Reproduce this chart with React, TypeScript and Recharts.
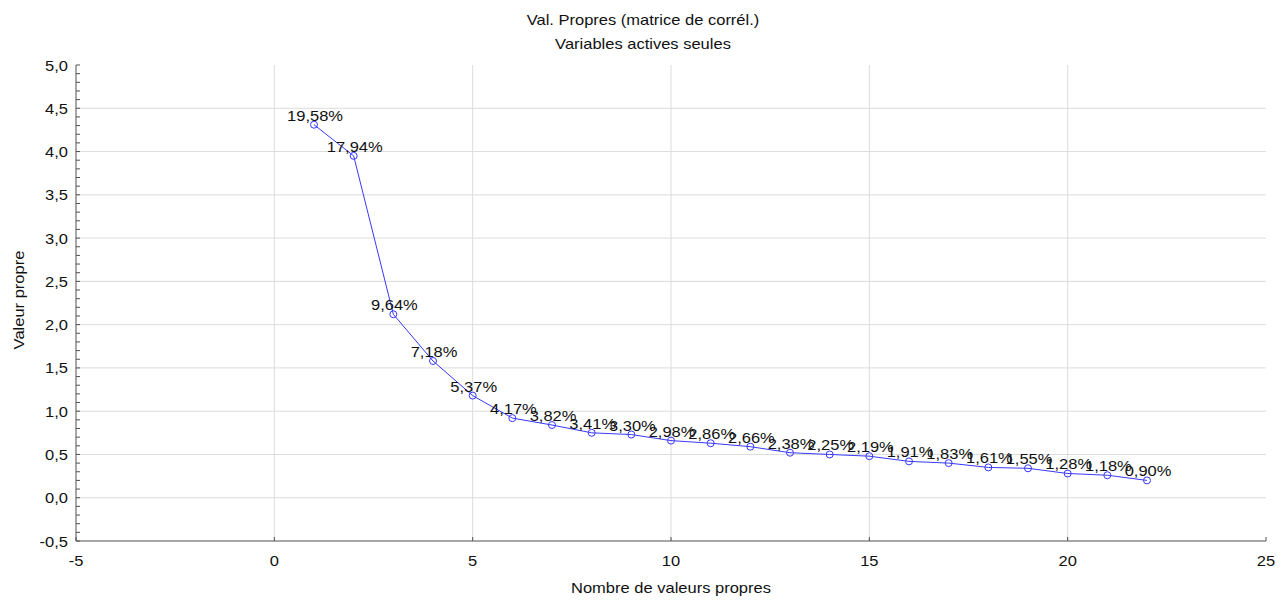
import React from "react";
import {
  LineChart,
  Line,
  XAxis,
  YAxis,
  CartesianGrid,
  LabelList,
} from "recharts";

const rank = [1, 2, 3, 4, 5, 6, 7, 8, 9, 10, 11, 12, 13, 14, 15, 16, 17, 18, 19, 20, 21, 22];
const eigenvalues = [
  4.31, 3.95, 2.12, 1.58, 1.18, 0.92, 0.84, 0.75, 0.73, 0.66, 0.63,
  0.59, 0.52, 0.5, 0.48, 0.42, 0.4, 0.35, 0.34, 0.28, 0.26, 0.2,
];
const pctLabels = [
  "19,58%", "17,94%", "9,64%", "7,18%", "5,37%", "4,17%", "3,82%", "3,41%",
  "3,30%", "2,98%", "2,86%", "2,66%", "2,38%", "2,25%", "2,19%", "1,91%",
  "1,83%", "1,61%", "1,55%", "1,28%", "1,18%", "0,90%",
];
const xTicks = [-5, 0, 5, 10, 15, 20, 25];
const xGrid = [0, 5, 10, 15, 20];
const yMinor = [
  -0.5, -0.4, -0.3, -0.2, -0.1, 0, 0.1, 0.2, 0.3, 0.4, 0.5, 0.6, 0.7, 0.8, 0.9,
  1, 1.1, 1.2, 1.3, 1.4, 1.5, 1.6, 1.7, 1.8, 1.9, 2, 2.1, 2.2, 2.3, 2.4, 2.5,
  2.6, 2.7, 2.8, 2.9, 3, 3.1, 3.2, 3.3, 3.4, 3.5, 3.6, 3.7, 3.8, 3.9, 4, 4.1,
  4.2, 4.3, 4.4, 4.5, 4.6, 4.7, 4.8, 4.9, 5,
];
const yGrid = [0, 0.5, 1, 1.5, 2, 2.5, 3, 3.5, 4, 4.5];

const data = rank.map((r, i) => ({ x: r, y: eigenvalues[i], pct: pctLabels[i] }));

const FONT = '"Liberation Sans", Arial, sans-serif';
const BLUE = "#3838ff";
const FRAME = "#505050";
const FS = 15;
const SX = 1.1; // the reference text is a bit wider than Arial

const isMajor = (v: number) => Math.abs(v * 2 - Math.round(v * 2)) < 1e-6;
const fmt = (v: number) => v.toFixed(1).replace(".", ",");

// text stretched horizontally around its anchor point
const WideText = ({ x, y, anchor, children }: any) => (
  <text
    transform={`translate(${x},${y}) scale(${SX},1)`}
    textAnchor={anchor}
    fontSize={FS}
    fontFamily={FONT}
    fill="#111"
  >
    {children}
  </text>
);

const LeftTick = ({ x, y, payload }: any) => {
  const v = payload.value;
  return (
    <g>
      <line x1={x} x2={x + 4} y1={y} y2={y} stroke={FRAME} />
      {isMajor(v) && (
        <WideText x={x - 8} y={y + 5.5} anchor="end">
          {fmt(v)}
        </WideText>
      )}
    </g>
  );
};

const RightTick = ({ x, y }: any) => (
  <line x1={x} x2={x - 4} y1={y} y2={y} stroke={FRAME} />
);

const BottomTick = ({ x, y, payload }: any) => (
  <g>
    <line x1={x} x2={x} y1={y} y2={y - 4} stroke={FRAME} />
    <WideText x={x} y={y + 25} anchor="middle">
      {payload.value}
    </WideText>
  </g>
);

const TopTick = ({ x, y }: any) => (
  <line x1={x} x2={x} y1={y} y2={y + 4} stroke={FRAME} />
);

const PctLabel = ({ x, y, value }: any) => (
  <WideText x={x + 1} y={y - 4} anchor="middle">
    {value}
  </WideText>
);

const htmlText = { fontSize: FS, color: "#111", whiteSpace: "nowrap" as const };

export default function App() {
  return (
    <div style={{ position: "absolute", left: 0, top: 0, width: 1286, height: 600, background: "#fff", fontFamily: FONT }}>
      <div style={{ position: "absolute", left: 0, width: 1286, top: 8, textAlign: "center", lineHeight: "24px" }}>
        <div style={{ ...htmlText, transform: `scaleX(${SX})` }}>Val. Propres (matrice de corrél.)</div>
        <div style={{ ...htmlText, transform: `scaleX(${SX})` }}>Variables actives seules</div>
      </div>
      <div
        style={{
          ...htmlText,
          position: "absolute",
          left: 18,
          top: 300,
          transform: `translate(-50%, -50%) rotate(-90deg) scaleX(${SX})`,
        }}
      >
        Valeur propre
      </div>
      <div style={{ position: "absolute", left: 76, width: 1190, top: 579, textAlign: "center" }}>
        <div style={{ ...htmlText, transform: `scaleX(${SX})` }}>Nombre de valeurs propres</div>
      </div>
      <LineChart
        width={1286}
        height={600}
        data={data}
        margin={{ top: 65, right: 20, bottom: 0, left: 0 }}
      >
        <CartesianGrid
          xAxisId="bottom"
          yAxisId="left"
          stroke="#dcdcdc"
          horizontalValues={yGrid}
          verticalValues={xGrid}
        />
        <XAxis
          xAxisId="bottom"
          dataKey="x"
          type="number"
          domain={[-5, 25]}
          ticks={xTicks}
          allowDataOverflow
          height={59}
          tickSize={0}
          tickMargin={0}
          tickLine={false}
          axisLine={{ stroke: FRAME }}
          tick={<BottomTick />}
          interval={0}
        />
        <XAxis
          xAxisId="top"
          dataKey="x"
          type="number"
          orientation="top"
          domain={[-5, 25]}
          ticks={xTicks}
          height={0}
          tickSize={0}
          tickMargin={0}
          tickLine={false}
          axisLine={{ stroke: FRAME }}
          tick={<TopTick />}
          interval={0}
        />
        <YAxis
          yAxisId="left"
          type="number"
          domain={[-0.5, 5]}
          ticks={yMinor}
          allowDataOverflow
          width={76}
          tickSize={0}
          tickMargin={0}
          tickLine={false}
          axisLine={{ stroke: FRAME }}
          tick={<LeftTick />}
          interval={0}
        />
        <YAxis
          yAxisId="right"
          orientation="right"
          type="number"
          domain={[-0.5, 5]}
          ticks={yMinor}
          width={0}
          tickSize={0}
          tickMargin={0}
          tickLine={false}
          axisLine={{ stroke: FRAME }}
          tick={<RightTick />}
          interval={0}
        />
        <Line
          xAxisId="bottom"
          yAxisId="left"
          dataKey="y"
          type="linear"
          stroke={BLUE}
          strokeWidth={1}
          dot={{ r: 3.5, fill: "none", stroke: BLUE, strokeWidth: 1 }}
          isAnimationActive={false}
        >
          <LabelList dataKey="pct" content={<PctLabel />} />
        </Line>
      </LineChart>
    </div>
  );
}
